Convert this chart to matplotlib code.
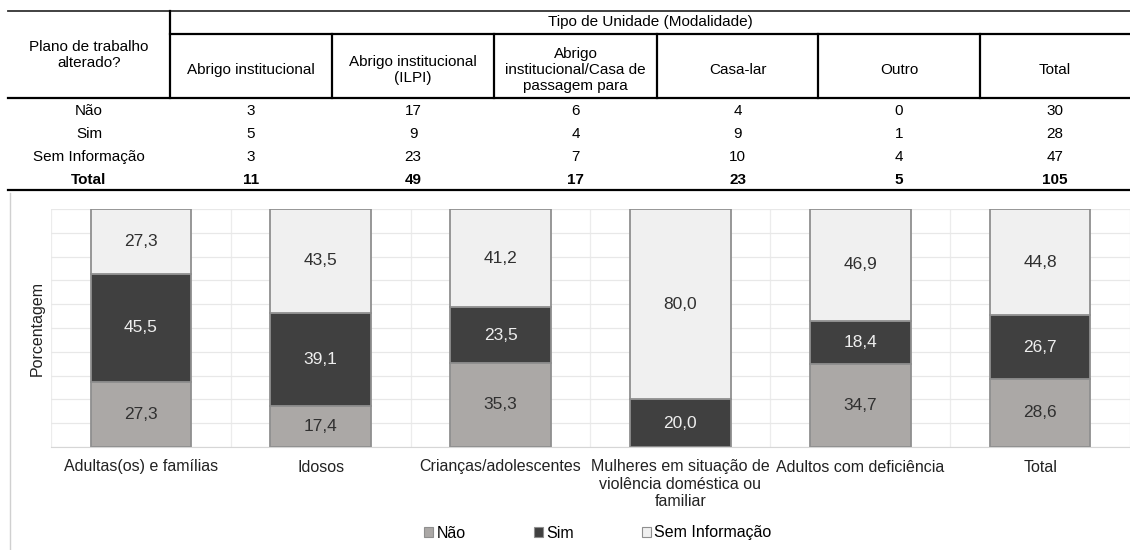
import matplotlib.pyplot as plt
import numpy as np
from matplotlib.lines import Line2D
from matplotlib.patches import Patch

# --- table data ---
table_cols = ["Abrigo institucional", "Abrigo institucional\n(ILPI)",
              "Abrigo\ninstitucional/Casa de\npassagem para", "Casa-lar", "Outro", "Total"]
table_rows = ["Não", "Sim", "Sem Informação", "Total"]
tab_nao = [3, 17, 6, 4, 0, 30]
tab_sim = [5, 9, 4, 9, 1, 28]
tab_sem = [3, 23, 7, 10, 4, 47]
tab_total = [11, 49, 17, 23, 5, 105]

# --- chart data (%) ---
categories = ["Adultas(os) e famílias", "Idosos", "Crianças/adolescentes",
              "Mulheres em situação de\nviolência doméstica ou\nfamiliar",
              "Adultos com deficiência", "Total"]
nao = [27.3, 17.4, 35.3, 0.0, 34.7, 28.6]
sim = [45.5, 39.1, 23.5, 20.0, 18.4, 26.7]
sem_info = [27.3, 43.5, 41.2, 80.0, 46.9, 44.8]
series_names = ["Não", "Sim", "Sem Informação"]

plt.rcParams["font.family"] = ["Liberation Sans", "DejaVu Sans"]

W, H = 1130, 550


def fx(x):
    return x / W


def fy(y):
    return 1 - y / H


fig = plt.figure(figsize=(11.3, 5.5), dpi=100)


def hline(y, x0, x1, lw=1.6, color="black"):
    fig.add_artist(Line2D([fx(x0), fx(x1)], [fy(y), fy(y)], transform=fig.transFigure,
                          color=color, lw=lw))


def vline(x, y0, y1, lw=1.6, color="black"):
    fig.add_artist(Line2D([fx(x), fx(x)], [fy(y0), fy(y1)], transform=fig.transFigure,
                          color=color, lw=lw))


# table grid
col_edges = [170, 332, 494, 657, 818, 980, 1130]
hline(11, 8, 1130, lw=1.3, color="#333333")
hline(34, 170, 1130)
hline(98, 8, 1130)
hline(190, 8, 1130)
vline(170, 11, 98)
for x in col_edges[1:-1]:
    vline(x, 34, 98)

fs_tab = 11
fig.text(fx(89), fy(55), "Plano de trabalho\nalterado?", ha="center", va="center",
         fontsize=fs_tab, linespacing=1.25)
fig.text(fx(650), fy(22), "Tipo de Unidade (Modalidade)", ha="center", va="center", fontsize=fs_tab)
col_centers = [(a + b) / 2 for a, b in zip(col_edges[:-1], col_edges[1:])]
for cx, name in zip(col_centers, table_cols):
    fig.text(fx(cx), fy(70), name, ha="center", va="center", fontsize=fs_tab, linespacing=1.2)

row_y = [111, 134, 157, 180]
for ry, rname, vals in zip(row_y, table_rows, [tab_nao, tab_sim, tab_sem, tab_total]):
    weight = "bold" if rname == "Total" else "normal"
    fig.text(fx(89), fy(ry), rname, ha="center", va="center", fontsize=fs_tab, fontweight=weight)
    for cx, v in zip(col_centers, vals):
        fig.text(fx(cx), fy(ry), str(v), ha="center", va="center", fontsize=fs_tab, fontweight=weight)

# chart frame line on the left
vline(10, 193, 550, lw=1.0, color="#d0d0d0")

# --- stacked bar chart ---
ax = fig.add_axes([fx(51), fy(447), fx(1079) - fx(0), fy(209) - fy(447)])
colors = ["#aba8a6", "#404040", "#f0f0f0"]
text_colors = ["#303030", "#eeeeee", "#303030"]
x = np.arange(len(categories))
bottom = np.zeros(len(categories))
for vals, c, tc, name in zip([nao, sim, sem_info], colors, text_colors, series_names):
    vals = np.array(vals)
    ax.bar(x, vals, 0.56, bottom=bottom, color=c, edgecolor="#8f8f8f", linewidth=1.3,
           label=name, zorder=3)
    for xi, b, v in zip(x, bottom, vals):
        if v > 0:
            ax.text(xi, b + v / 2, f"{v:.1f}".replace(".", ","), ha="center", va="center",
                    fontsize=12.5, color=tc, zorder=4)
    bottom += vals

ax.set_xlim(-0.5, len(categories) - 0.5)
ax.set_ylim(0, 100)
ax.set_yticks(np.arange(0, 101, 10))
ax.set_yticklabels([])
ax.set_xticks(x)
ax.set_xticklabels(categories, fontsize=11.5, color="#222222", linespacing=1.2)
ax.set_xticks(np.arange(-0.5, len(categories), 1), minor=True)
ax.tick_params(axis="both", which="both", length=0)
ax.tick_params(axis="x", pad=9)
ax.grid(axis="y", which="major", color="#e8e8e8", lw=0.9, zorder=0)
ax.grid(axis="x", which="minor", color="#ececec", lw=0.9, zorder=0)
for side in ["top", "right", "left"]:
    ax.spines[side].set_visible(False)
ax.spines["bottom"].set_color("#d6d6d6")
ax.set_ylabel("Porcentagem", fontsize=11.5, color="#222222", labelpad=1)

handles = [Patch(facecolor=c, edgecolor="#8f8f8f", linewidth=0.8) for c in colors]
fig.legend(handles, series_names, loc="center", bbox_to_anchor=(fx(598), fy(533)), ncol=3,
           frameon=False, handlelength=0.55, handleheight=0.55, handletextpad=0.2,
           columnspacing=4.3, prop={"size": 11.5})

fig.savefig("out.png", dpi=100)
